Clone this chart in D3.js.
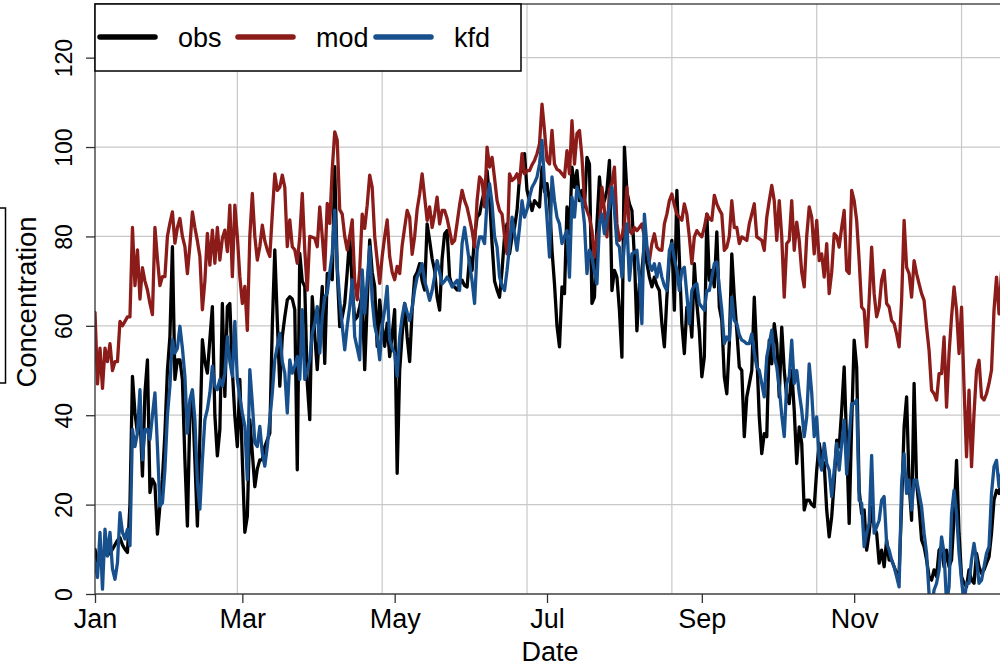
<!DOCTYPE html>
<html><head><meta charset="utf-8">
<script src="https://cdn.jsdelivr.net/npm/d3@7"></script>
<style>body{margin:0;background:#fff}svg{display:block;font-family:"Liberation Sans",Arial,sans-serif}</style>
</head><body><svg id="c" width="1000" height="667"></svg>
<script>
const startDate = "2001-01-01";
const seriesNames = ["obs", "mod", "kfd"];
const seriesColors = ["#000000", "#8c1c19", "#17508c"];
const xTickLabels = ["Jan", "Mar", "May", "Jul", "Sep", "Nov"];
const xTickMonths = [0, 2, 4, 6, 8, 10];
const yTicks = [0, 20, 40, 60, 80, 100, 120];
const gridDays = [57, 115, 173, 231, 289, 347];

const obs = [
10,7,9,8,9,9,9,10,11,12,
12.6,11,10,9.3,20,48.7,40.5,36,40.5,26.4,
45,52.4,22.7,25.7,24.5,13.4,19.7,25.7,36,50,
57.6,77.7,48,52.4,52.4,48,30,15.2,40.5,44.2,
30,15.2,35,56.9,52,49.4,57,64.3,40,30.9,
36.8,65,44.2,64.3,65,50,39.8,33,48,30,
13.8,17.4,39,31.5,24,28,30,30,33,34.5,
36,60,77,61.3,46.5,57.6,62,65.8,66.5,66,
63.6,27.8,76.2,70,68.8,47.2,39,66.5,58,50.2,
60,68.8,51.6,71.7,71,70.3,95.6,72.5,59.8,62,
65,72,80,68.8,61.3,62,64.3,67.3,50.2,65,
79.2,72,68.8,55.4,65.8,60,55.4,60.6,53.1,58,
63.6,27,50,58,65,57.5,52,63.5,70.9,72,
73.9,70,68,82.8,79.1,75,72.4,66.4,63.5,75,
80.6,81.3,70.9,69,68.7,68,69.4,70.2,69,68.7,
75.4,72.4,80,84.3,85,88,90.3,94.7,88.8,78.4,
70,68,66.4,72.4,80,82.8,76.1,79.9,82,85.8,
93.3,95,98.5,90.3,88,85.8,88,87.3,86.6,95.5,
90,91.8,88,76.9,69.4,60,55.3,68.7,67.2,86.6,
80.6,95.5,91,94.7,88,90.3,86.6,97.7,96.2,65,
66.4,82.8,93.3,86.6,88,90.3,97,67.9,72.4,70.9,
63.5,53,100,90,87.3,85.8,75.4,58.9,69.4,72.4,
78.4,74,70.9,68.7,70.9,69,67.9,60.5,55.3,66.4,
75,79.1,63.5,90.3,75,60.5,53.8,64.2,64.2,57.5,
73.9,65,58.9,48.6,53,85,70.2,72.4,68.7,81,
64.2,61.2,48.6,44.8,56,76.1,66.4,59,50.8,50,
35.2,44.1,47,50,66.4,53.8,39.6,31.4,35.9,35.2,
56.8,51.5,60.5,56,44.1,59.7,50,44.1,42.6,50,
41.1,29.2,37.4,33.7,18.8,21,21,20,19.5,27.7,
33.7,30,29.2,18.8,12.8,17.3,25,34.4,32.9,41.1,
50.8,33.7,15.8,38.1,56.8,50.8,23.2,18,18.8,9.8,
13.6,19.5,15,13.6,6.9,9.8,6.1,12.1,7.6,7.6,
6.1,4.6,4.6,20,37.4,44.1,24.7,16.5,47.1,24.7,
19.5,12.1,10.6,7.6,3.9,3.1,5.4,3.9,9.8,10.6,
6.1,9.8,6.1,7.6,17.3,29.9,13.6,3.9,2.4,1.6,
5.4,3.1,2.4,9.1,6.1,4.6,5.4,6.9,8.3,13.6,
21,23.2,22.5,26,28
];
const mod = [
63,47,55,46,55,52,56,50,52,52,
61,60,61,62,62,82,69,77,66,73,
70,68,65,62.5,82,75,69,71,71,80,
83,85.5,78.5,82,84,80,77.7,71.7,78,85.5,
82,79,75.5,63.6,70,80.7,73.6,81.4,74,82,
74.7,79.6,81.4,76.6,87,71,87,80,71,65,
68.8,59,80,89.6,80,74.7,77.7,82.5,79,77,
75.5,85,94,90.3,91,93.7,91,77.7,83.7,77.7,
77,74,80,89.6,77,68,80,79.8,79.6,77.7,
86.6,80,72.5,87.4,82.9,95,103.4,101.5,86,85,
80,77,80,83.7,70,65.8,72.5,85,81.8,87,
93.7,91,80,74.7,69.5,75.5,80,83.7,75.5,72,
70.3,73.3,71.7,78,82,85.8,84.3,76,80,86,
89.5,94,88.8,83.6,86.6,82,85,88.8,82.8,85.8,
85.8,84,81.3,78.4,79.1,83,87,90.3,88,86.5,
84,81.3,77.6,88,93.3,92.5,86.6,100,95.5,97.7,
93,88,85.8,85,80,76.1,94,92.5,93,94,
92,98.5,94,94.7,94.7,96,97,98.5,100.7,109.6,
103.7,97,96.2,103.7,96.2,95,94.7,94,93.3,99.2,
94,105.9,96.2,103,103.7,97.7,88,85.8,84.3,81.3,
75.4,80,82,91,85.8,79.9,90.3,92,95.5,82.8,
79.1,80,82.8,91,81.3,80.6,82,81.3,82,82.8,
79.9,77,74.6,78.4,80.6,77.6,77,76.9,82.8,85,
88,89.5,87,85,84.3,83.6,87.3,85,79.9,73.9,
79.9,81.3,80.5,79.9,82,85,84,83.6,89.2,87.3,
86,85,76.9,77.6,80,88,82,82,78.4,79.9,
79.5,79.1,82.8,85,87.3,79.9,79.5,79.1,76.9,84.3,
88,91.4,88,79.1,88,79.9,66.4,78.4,79.1,88,
76.9,83.2,79.1,72,68.7,80,86.6,84.3,76.1,83.6,
74.6,76.1,70.9,78.4,67.2,72,80.6,80,77.6,82,
85.8,72.4,71.7,90.3,88,83.6,74.6,64.2,63.5,55.3,
65.7,77.6,67.2,62,64.2,70.2,72.4,65,64.2,61.2,
60.5,58.2,55.3,65.7,83.6,73.1,71.7,66.4,74.6,71.7,
69.4,67.2,65.7,59.7,54.5,45.6,44.8,43.4,49.3,49.3,
57.5,41.8,53.8,62,68.7,63.5,53.8,64.2,46.3,30.7,
45.6,28.5,40.4,50,52.3,44.1,43.4,44.8,47.1,50.1,
63.5,70.9,62.7,72,62
];
const kfd = [
7,3.7,13.8,1.1,14.5,8.5,13.8,5.6,3.3,7,
18.2,13.8,12.3,14.5,10.8,36.8,33,36,45.7,30,
36.8,36.8,34.6,40,45,33,19.7,20.4,27.9,40,
46.5,56.9,53.9,55,59.9,55,48.7,36,43.5,45.7,
39,25,19,30,39,41.3,45,51,46.5,45.7,
48,46.5,49.4,57.6,52,48.7,61,48,44,40.5,
37.5,25.6,50.2,42.7,33.8,33,37.5,31.5,28.6,33,
39,45,52.4,55.4,58.3,52,49.4,40.5,52.4,49.4,
51,53.1,48,63.6,48,50,52.4,58.3,60.6,64.3,
53.9,62,66.5,67.3,72,76.2,85.9,73.2,65.8,60,
54.6,60,64.3,70.3,57.6,55,52.4,72.5,62.8,70,
77.7,65.8,60,57.6,52.4,60,63.6,68.8,56.9,55,
53.9,48.7,57.5,62,65,63,61.2,64,68,70.9,
72,73.9,70,68,65.7,67.9,71,74.6,72,69.4,
70,70.9,70,68.7,69.5,70.2,67.9,78.4,82,78,
73.9,70,65,76.9,79.9,79.9,78.4,88,91.8,87.3,
80,77.6,70.9,69,67.9,72.4,78,84.3,80.6,76.9,
82,88,84.3,86,88.8,91,92,93.3,96.2,101.5,
91.8,84,75.4,93.3,88,84.3,82.8,78.4,80,81.3,
70.9,88.8,84.3,91,89,88,82.8,71.7,76.9,75.4,
72,69.4,82.8,85,80.6,84,86.6,91,85.8,78.4,
77.6,70.9,78.4,82.8,70.2,76.1,76.5,76.9,70.9,60.5,
85,78,73.9,72.4,73.9,70.9,73.9,70.9,69,67.9,
76.9,78.4,75,72.4,67.9,72.4,73.1,67,60.5,67.9,
69,69.4,65,64.2,63.5,67.9,67.9,70.9,73.9,74.3,
68.7,63.5,56,57.5,56.8,66.4,61.2,60.5,58,56.8,
56.5,56,56,58.2,54,50.8,50,47.1,44.1,53,
56,59,53,50.8,46.3,40,35.2,47.1,48.6,56.8,
47.1,50,45,41.1,35.2,39.6,51.5,45,35.2,39.6,
30,27.7,33.7,29.2,27.7,21.8,27.7,33.7,27.7,33.7,
38.9,26.8,35,42.6,42.6,43.4,21,20.3,10.6,13.6,
15.8,31,13.6,15,16.5,21,21.8,11.3,9.8,7.6,
6.1,3.9,1.6,24.7,31.4,22.5,25.5,18.8,25.5,25.5,
22.5,19.5,13.6,9.1,0,-3,0.9,2.4,5.4,12.8,
9.1,-2,1.6,18,23.2,18,9.1,3.1,-2,2.4,
2.4,7.6,11.3,7.6,2.4,3.1,6.1,9.1,10.6,22.5,
28.5,29.9,24,27,30
];

const svg = d3.select("#c");
const m = {left: 95, top: 4, bottom: 594, right: 1004};
const t0 = d3.timeParse("%Y-%m-%d")(startDate);
const dates = obs.map((_, i) => d3.timeDay.offset(t0, i));
const x = d3.scaleTime().domain([dates[0], dates[dates.length - 1]]).range([m.left, m.right]);
const y = d3.scaleLinear().domain([0, 132]).range([m.bottom, m.top]);

svg.append("defs").append("clipPath").attr("id", "clip")
  .append("rect").attr("x", m.left).attr("y", m.top).attr("width", m.right - m.left).attr("height", m.bottom - m.top);

// grid
const g = svg.append("g");
g.selectAll("line.gx").data(gridDays).join("line")
  .attr("x1", d => x(d3.timeDay.offset(t0, d))).attr("x2", d => x(d3.timeDay.offset(t0, d)))
  .attr("y1", m.top).attr("y2", m.bottom).attr("stroke", "#c8c8c8").attr("stroke-width", 1.2);
g.selectAll("line.gy").data(yTicks).join("line")
  .attr("x1", m.left).attr("x2", m.right).attr("y1", d => y(d)).attr("y2", d => y(d))
  .attr("stroke", "#c8c8c8").attr("stroke-width", 1.2);

// lines
const line = d3.line().x((d, i) => x(dates[i])).y(d => y(d)).curve(d3.curveLinear);
const lines = svg.append("g").attr("clip-path", "url(#clip)");
[obs, mod, kfd].forEach((s, k) => {
  lines.append("path").datum(s).attr("d", line).attr("fill", "none")
    .attr("stroke", seriesColors[k]).attr("stroke-width", 3.3).attr("stroke-linejoin", "round").attr("stroke-linecap", "round");
});

// box
svg.append("rect").attr("x", m.left).attr("y", m.top).attr("width", m.right - m.left).attr("height", m.bottom - m.top)
  .attr("fill", "none").attr("stroke", "#333").attr("stroke-width", 1.3);

// axes
const xTickDates = xTickMonths.map(mo => new Date(t0.getFullYear(), mo, 1));
const xa = svg.append("g").attr("transform", `translate(0,${m.bottom})`)
  .call(d3.axisBottom(x).tickValues(xTickDates).tickFormat((d, i) => xTickLabels[i]).tickSize(9).tickPadding(6));
xa.select(".domain").remove();
xa.selectAll("line").attr("stroke", "#333").attr("stroke-width", 1.3);
xa.selectAll("text").attr("font-size", 27).attr("fill", "#000").attr("font-family", "Liberation Sans, Arial, sans-serif");

const ya = svg.append("g").attr("transform", `translate(${m.left},0)`)
  .call(d3.axisLeft(y).tickValues(yTicks).tickSize(9).tickFormat(d3.format("d")));
ya.select(".domain").remove();
ya.selectAll("line").attr("stroke", "#333").attr("stroke-width", 1.3);
ya.selectAll("text").attr("font-size", 23).attr("fill", "#000").attr("font-family", "Liberation Sans, Arial, sans-serif")
  .attr("text-anchor", "middle").attr("x", null).attr("dy", null)
  .attr("transform", "translate(-23,0) rotate(-90)");

svg.append("text").attr("x", 550).attr("y", 661).attr("text-anchor", "middle").attr("font-size", 27).text("Date");
svg.append("text").attr("transform", "translate(36,302) rotate(-90)").attr("text-anchor", "middle").attr("font-size", 27.5).text("Concentration");
svg.append("rect").attr("x", -2).attr("y", 208).attr("width", 7.5).attr("height", 175).attr("fill", "none").attr("stroke", "#000").attr("stroke-width", 1.5);

// legend
const lg = svg.append("g");
lg.append("rect").attr("x", m.left).attr("y", m.top).attr("width", 426).attr("height", 67).attr("fill", "#fff").attr("stroke", "#000").attr("stroke-width", 1.5);
const legX = [100, 238, 376];
seriesNames.forEach((n, k) => {
  lg.append("line").attr("x1", legX[k]).attr("x2", legX[k] + 55).attr("y1", 37).attr("y2", 37)
    .attr("stroke", seriesColors[k]).attr("stroke-width", 5.5).attr("stroke-linecap", "round");
  lg.append("text").attr("x", legX[k] + 78).attr("y", 46.5).attr("font-size", 27).text(n);
});
</script></body></html>
